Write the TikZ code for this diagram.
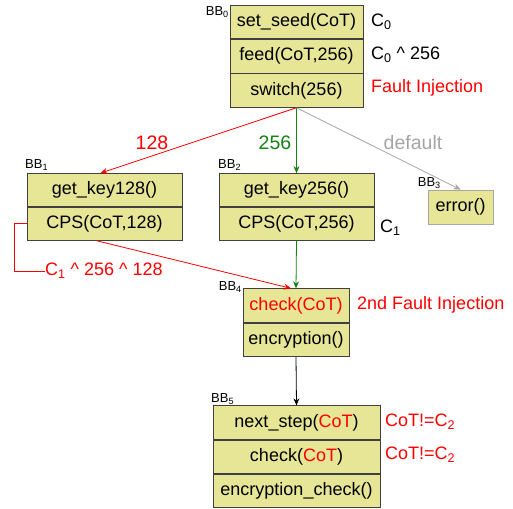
\documentclass[tikz,border=0pt]{standalone}
\usepackage{fontspec}
\setmainfont{Liberation Sans}
\usetikzlibrary{arrows.meta,positioning}
\definecolor{boxfill}{RGB}{230,230,150}
\definecolor{edgegreen}{RGB}{20,130,20}
\definecolor{edgegray}{RGB}{165,165,165}
\begin{document}
\begin{tikzpicture}[x=1pt,y=-1pt,
  cell/.style={draw=black!75,fill=boxfill,line width=0.8pt,inner sep=0pt,
    minimum height=33.5pt,font=\fontsize{18}{20}\selectfont},
  bblabel/.style={inner sep=0pt,font=\fontsize{13}{14}\selectfont},
  note/.style={anchor=west,inner sep=0pt,font=\fontsize{18}{20}\selectfont},
  elabel/.style={inner sep=0pt,font=\fontsize{19.5}{21}\selectfont},
  flow/.style={line width=0.8pt,-{Stealth[length=7pt,width=6pt]}},
  hot/.style={text=red}]
\useasboundingbox (0,0) rectangle (513,508);

% BB0
\node[cell,minimum width=133pt] (b0a) at (296.5,22) {set\_seed(CoT)};
\node[cell,minimum width=133pt,below=0pt of b0a] (b0b) {feed(CoT,256)};
\node[cell,minimum width=133pt,below=0pt of b0b] (b0c) {switch(256)};
\node[bblabel,anchor=east] (l0) at (229,12) {BB\textsubscript{0}};
\node[note] (c0) at (371,22) {C\textsubscript{0}};
\node[note] (c0x) at (371,55) {C\textsubscript{0} \^{} 256};
\node[note,hot] (fi1) at (371,88) {Fault Injection};

% BB1
\node[cell,minimum width=155pt,minimum height=33pt] (b1a) at (104.5,190) {get\_key128()};
\node[cell,minimum width=155pt,minimum height=33pt,below=0pt of b1a] (b1b) {CPS(CoT,128)};
\node[bblabel,anchor=south west] (l1) at (25,171) {BB\textsubscript{1}};

% BB2
\node[cell,minimum width=155pt,minimum height=33pt] (b2a) at (296.5,190) {get\_key256()};
\node[cell,minimum width=155pt,minimum height=33pt,below=0pt of b2a] (b2b) {CPS(CoT,256)};
\node[bblabel,anchor=south west] (l2) at (218,171) {BB\textsubscript{2}};
\node[note] (c1) at (380,228) {C\textsubscript{1}};

% BB3
\node[cell,draw=black!35,minimum width=65pt,minimum height=34pt] (b3) at (460.5,207) {error()};
\node[bblabel,anchor=south east] (l3) at (441,189) {BB\textsubscript{3}};

% BB4
\node[cell,minimum width=106pt] (b4a) at (296,305.5) {\textcolor{red}{check(CoT)}};
\node[cell,minimum width=106pt,below=0pt of b4a] (b4b) {encryption()};
\node[bblabel,anchor=east] (l4) at (242,287) {BB\textsubscript{4}};
\node[note,hot] (fi2) at (357,305) {2nd Fault Injection};

% BB5
\node[cell,minimum width=167pt] (b5a) at (296.5,422.5) {next\_step(\textcolor{red}{CoT})};
\node[cell,minimum width=167pt,below=0pt of b5a] (b5b) {check(\textcolor{red}{CoT})};
\node[cell,minimum width=167pt,below=0pt of b5b] (b5c) {encryption\_check()};
\node[bblabel,anchor=south west] (l5) at (211,405) {BB\textsubscript{5}};
\node[note,hot] (n5a) at (385,422) {CoT!=C\textsubscript{2}};
\node[note,hot] (n5b) at (385,455) {CoT!=C\textsubscript{2}};

% switch edges
\draw[flow,red] (b0c.south) -- ([xshift=-4pt]b1a.north);
\draw[flow,edgegreen] (b0c.south) -- (b2a.north);
\draw[flow,edgegray] (b0c.south) -- (b3.north);
\node[elabel,text=red] (e128) at (152,143) {128};
\node[elabel,text=edgegreen] (e256) at (275,143) {256};
\node[elabel,text=edgegray] (edef) at (413,143) {default};

% merge into BB4
\draw[flow,red] ([xshift=-8pt]b1b.south) -- ([xshift=-5pt]b4a.north);
\draw[flow,edgegreen] (b2b.south) -- (b4a.north);
\draw[flow,black] (b4b.south) -- (b5a.north);

% checksum annotation of BB1
\node[note,text=red] (c1x) at (45,271) {C\textsubscript{1} \^{} 256 \^{} 128};
\draw[red,line width=0.8pt] (b1b.west) -| (14,271) -- (c1x.west);
\end{tikzpicture}
\end{document}
